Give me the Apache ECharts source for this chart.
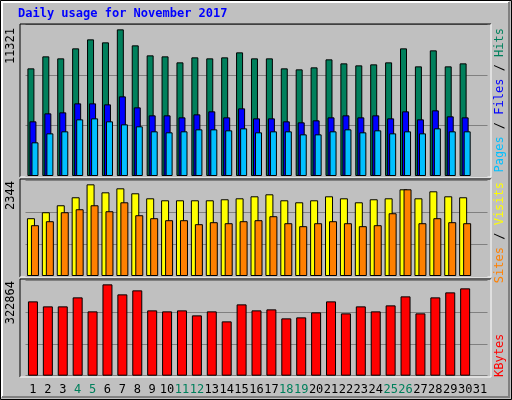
<!DOCTYPE html>
<html><head><meta charset="utf-8">
<script src="https://cdn.jsdelivr.net/npm/echarts@6/dist/echarts.min.js"></script>
<style>html,body{margin:0;padding:0;background:#C0C0C0}#c{width:512px;height:400px}</style>
</head><body><div id="c"></div>
<script>
const days = ['1','2','3','4','5','6','7','8','9','10','11','12','13','14','15','16','17','18','19','20','21','22','23','24','25','26','27','28','29','30','31'];
const weekend = ['4','5','11','12','18','19','25','26'];
const hits = [8311,9237,9083,9855,10549,10318,11321,10086,9314,9237,8774,9160,9083,9160,9546,9083,9083,8311,8234,8388,9006,8697,8542,8620,8774,9855,8465,9700,8465,8697];
const files = [4220,4837,4914,5609,5609,5532,6149,5300,4683,4683,4528,4760,4992,4528,5223,4451,4451,4220,4143,4297,4528,4683,4528,4683,4451,4992,4374,5069,4606,4528];
const pages = [2599,3293,3448,4374,4451,4220,3988,3834,3448,3371,3448,3602,3602,3525,3679,3371,3448,3448,3216,3216,3448,3602,3371,3525,3293,3448,3293,3679,3448,3448];
const visits = [1478,1631,1809,2013,2344,2140,2242,2115,1987,1936,1936,1936,1936,1962,1987,2038,2089,1936,1885,1936,2038,1987,1885,1962,1987,2217,1987,2166,2038,2013];
const sites = [1299,1401,1631,1707,1809,1656,1885,1554,1478,1427,1427,1325,1376,1350,1401,1427,1529,1350,1274,1350,1401,1350,1274,1299,1605,2217,1350,1478,1376,1350];
const kbytes = [262771,245086,245086,276901,227412,322864,287505,301645,230947,227412,230947,213272,227412,192063,252156,230947,234482,202668,206203,223877,262771,220342,245086,227412,248621,280435,220342,276901,294575,308715];
const maxLabels = ['11321','2344','322864'];

const chart = echarts.init(document.getElementById('c'));
const font = 'DejaVu Sans Mono';
const panels = [{top:24.7,h:151.3,max:11681},{top:180.7,h:95.3,max:2437},{top:280.7,h:95,max:335826}];
const grids = panels.map(p=>({left:25.5,width:462,top:p.top,height:p.h,containLabel:false}));
const xAxes = panels.map((p,i)=>({type:'category',data:days,gridIndex:i,
  axisLine:{show:false},axisTick:{show:false},
  axisLabel:{show:i===2,interval:0,margin:8,fontFamily:font,fontSize:12,
    formatter:v=>weekend.includes(v)?'{w|'+v+'}':'{n|'+v+'}',
    rich:{w:{color:'#00805C',fontFamily:font,fontSize:12},n:{color:'#000',fontFamily:font,fontSize:12}}}}));
const yAxes = panels.map((p,i)=>({type:'value',gridIndex:i,min:0,max:p.max,interval:p.max/3,
  axisLabel:{show:false},axisLine:{show:false},axisTick:{show:false},
  splitLine:{lineStyle:{color:'#808080',width:1}}}));
const bs = c=>({color:c,borderColor:'#000',borderWidth:1});
const series = [
 {type:'bar',data:hits,xAxisIndex:0,yAxisIndex:0,barWidth:7,barGap:'-71%',itemStyle:bs('#00805C')},
 {type:'bar',data:files,xAxisIndex:0,yAxisIndex:0,barWidth:7,barGap:'-71%',itemStyle:bs('#0000FF')},
 {type:'bar',data:pages,xAxisIndex:0,yAxisIndex:0,barWidth:7,barGap:'-71%',itemStyle:bs('#00C0FF')},
 {type:'bar',data:visits,xAxisIndex:1,yAxisIndex:1,barWidth:8,barGap:'-50%',itemStyle:bs('#FFFF00')},
 {type:'bar',data:sites,xAxisIndex:1,yAxisIndex:1,barWidth:8,barGap:'-50%',itemStyle:bs('#FF8000')},
 {type:'bar',data:kbytes,xAxisIndex:2,yAxisIndex:2,barWidth:10,itemStyle:bs('#FF0000')}
];
const g = [];
g.push({type:'rect',shape:{x:0.5,y:0.5,width:511,height:399},style:{fill:'none',stroke:'#000',lineWidth:1},z:-1});
g.push({type:'polyline',shape:{points:[[2,397],[2,2],[509,2]]},style:{stroke:'#fff',lineWidth:2,fill:null},z:-1});
g.push({type:'polyline',shape:{points:[[2,397],[509,397],[509,2]]},style:{stroke:'#808080',lineWidth:2,fill:null},z:-1});
const frames=[[24,177],[179,277],[279,377]];
frames.forEach(f=>{
  g.push({type:'polyline',shape:{points:[[20,f[1]],[20,f[0]],[491,f[0]]]},style:{stroke:'#000',lineWidth:1,fill:null},z:10});
  g.push({type:'polyline',shape:{points:[[20,f[1]],[491,f[1]],[491,f[0]]]},style:{stroke:'#fff',lineWidth:1,fill:null},z:10});
});
g.push({type:'text',x:18,y:8,style:{text:'Daily usage for November 2017',fill:'#0000FF',font:'bold 12px '+font}});
[[28,0],[181,1],[281,2]].forEach(a=>{
  g.push({type:'text',x:11,y:a[0],rotation:Math.PI/2,style:{text:maxLabels[a[1]],fill:'#000',font:'12px '+font,align:'right',verticalAlign:'middle'}});
});
function vlab(y,parts,align){
  g.push({type:'text',x:500,y:y,rotation:Math.PI/2,style:{
    text:parts.map((p,i)=>'{s'+i+'|'+p[0]+'}').join(''),
    align:align,verticalAlign:'middle',font:'12px '+font,
    rich:Object.fromEntries(parts.map((p,i)=>['s'+i,{fill:p[1],font:'12px '+font}]))}});
}
vlab(28,[['Pages','#00C0FF'],[' / ','#000'],['Files','#0000FF'],[' / ','#000'],['Hits','#00805C']],'right');
vlab(182,[['Sites','#FF8000'],[' / ','#000'],['Visits','#FFFF00']],'right');
vlab(377,[['KBytes','#FF0000']],'left');

chart.setOption({animation:false,backgroundColor:'#C0C0C0',grid:grids,xAxis:xAxes,yAxis:yAxes,series:series,graphic:g});
</script></body></html>
